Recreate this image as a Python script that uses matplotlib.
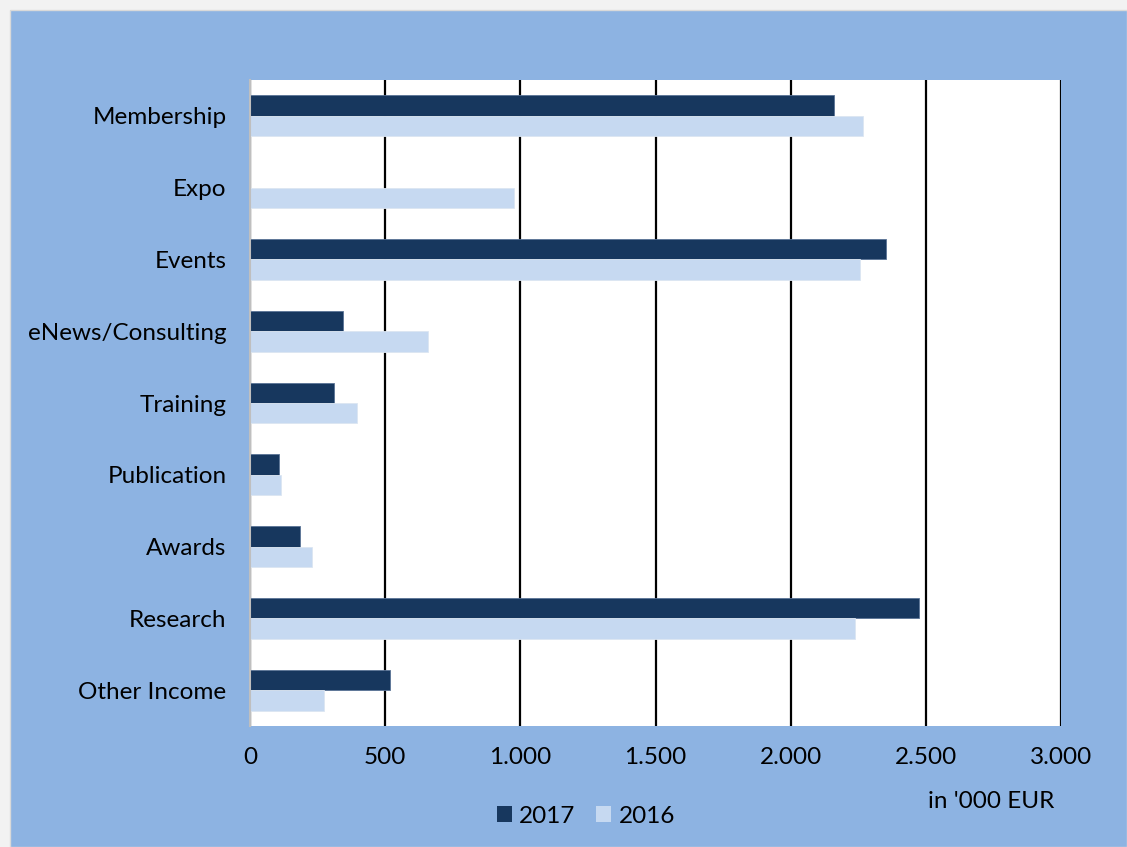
import matplotlib.pyplot as plt
from matplotlib.patches import Rectangle
import numpy as np

categories = ["Membership", "Expo", "Events", "eNews/Consulting", "Training",
              "Publication", "Awards", "Research", "Other Income"]
values_2017 = [2159, 0, 2352, 345, 310, 108, 186, 2473, 517]
values_2016 = [2268, 977, 2255, 660, 397, 113, 228, 2238, 273]
xticks = [0, 500, 1000, 1500, 2000, 2500, 3000]
xtick_labels = ["0", "500", "1.000", "1.500", "2.000", "2.500", "3.000"]

DARK = "#17375E"
LIGHT = "#C6D9F1"
BG = "#8DB3E2"

plt.rcParams['font.family'] = ['Lato', 'DejaVu Sans']
FS = 17.5

W, H = 1127, 847
fig = plt.figure(figsize=(W / 100, H / 100), dpi=100)
fig.patch.set_facecolor("#F2F2F2")
fig.patches.append(Rectangle((10 / W, 0), 1 - 10 / W, 1 - 10 / H, transform=fig.transFigure,
                             facecolor=BG, edgecolor="#D9D9D9", linewidth=1, zorder=-1))

ax = fig.add_axes([250 / W, (H - 726) / H, 811 / W, 646 / H])
ax.set_facecolor("white")

y = np.arange(len(categories))
h = 0.285
ax.barh(y - h / 2, values_2017, height=h, color=DARK, edgecolor="#5A7396", linewidth=0.6,
        label="2017", zorder=3)
ax.barh(y + h / 2, values_2016, height=h, color=LIGHT, edgecolor="#DCE6F2", linewidth=0.6,
        label="2016", zorder=3)

ax.set_ylim(len(categories) - 0.5, -0.5)
ax.set_xlim(0, 3000)
ax.set_yticks(y)
ax.set_yticklabels(categories, fontsize=FS)
ax.set_xticks(xticks)
ax.set_xticklabels(xtick_labels, fontsize=FS)
ax.tick_params(length=0, pad=17, axis='y')
ax.tick_params(length=0, pad=15, axis='x')
ax.grid(axis='x', color='black', linewidth=1.6, zorder=1)
for s in ["top", "right", "bottom"]:
    ax.spines[s].set_visible(False)
ax.spines["left"].set_color("#BFBFBF")
ax.spines["left"].set_linewidth(1.5)
ax.spines["left"].set_zorder(4)

fig.text(991 / W, 1 - 801 / H, "in '000 EUR", fontsize=FS, ha="center", va="center")

leg = fig.legend(loc="center left", bbox_to_anchor=(497 / W, 1 - 816 / H), ncol=2, frameon=False,
                 fontsize=FS, handlelength=0.62, handleheight=0.62, handletextpad=0.29,
                 columnspacing=0.86, borderpad=0, borderaxespad=0)
for p in leg.get_patches():
    p.set_edgecolor("none")

fig.savefig("out.png", dpi=100, facecolor=fig.get_facecolor())
